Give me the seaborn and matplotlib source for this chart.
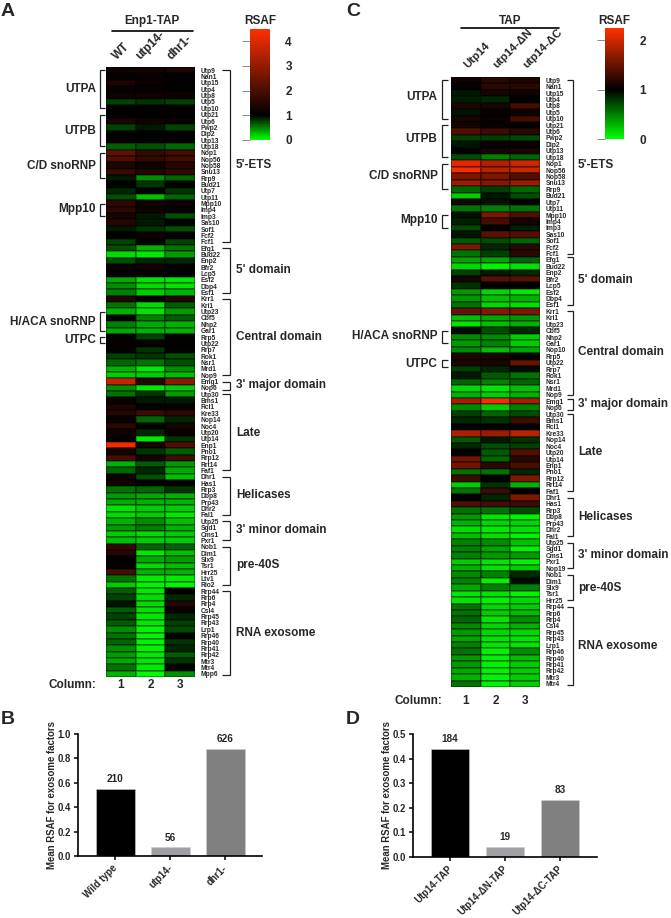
"""Heatmaps RSAF et barres exosome (panneaux A, B, C, D)."""

import matplotlib
matplotlib.use("Agg")
import matplotlib.pyplot as plt
from matplotlib.colors import LinearSegmentedColormap
from matplotlib.transforms import ScaledTranslation
import pandas as pd
import seaborn as sns

W, H = 671, 918

# Panneau A
genes_a = ["Utp9", "Nan1", "Utp15", "Utp4", "Utp8", "Utp5", "Utp10", "Utp21", "Utp6", "Pwp2", "Dip2", "Utp13",
           "Utp18", "Nop1", "Nop56", "Nop58", "Snu13", "Rrp9", "Bud21", "Utp7", "Utp11", "Mpp10", "Imp4", "Imp3",
           "Sas10", "Sof1", "Fcf2", "Fcf1", "Efg1", "Bud22", "Enp2", "Bfr2", "Lcp5", "Esf2", "Dbp4", "Esf1",
           "Krr1", "Kri1", "Utp23", "Cbf5", "Nhp2", "Gar1", "Rrp5", "Utp22", "Rrp7", "Rok1", "Nsr1", "Mrd1",
           "Nop9", "Emg1", "Nop6", "Utp30", "Bms1", "Rcl1", "Kre33", "Nop14", "Noc4", "Utp20", "Utp14", "Enp1",
           "Pno1", "Rrp12", "Rrt14", "Faf1", "Dhr1", "Has1", "Rrp3", "Dbp8", "Prp43", "Dhr2", "Fal1", "Utp25",
           "Sgd1", "Cms1", "Pxr1", "Nob1", "Dim1", "Slx9", "Tsr1", "Hrr25", "Ltv1", "Rio2", "Rrp44", "Rrp6",
           "Rrp4", "Csl4", "Rrp45", "Rrp43", "Lrp1", "Rrp46", "Rrp40", "Rrp41", "Rrp42", "Mtr3", "Mtr4", "Mpp6"]
wt_a = [1.2, 1.05, 1.4, 1.1, 1.2, 0.75, 1.05, 1.05, 1.4, 0.75, 1.05, 1.05,
        0.65, 2.3, 2.1, 1.4, 1.8, 0.9, 1.0, 0.85, 0.7, 1.6, 1.6, 1.3,
        1.5, 0.9, 1.0, 0.75, 0.7, 0.15, 0.7, 1.15, 1.05, 0.35, 0.45, 0.5,
        1.5, 0.55, 0.3, 1.0, 0.5, 0.35, 1.0, 1.1, 1.0, 0.75, 0.6, 0.3,
        0.2, 3.7, 0.45, 0.55, 1.15, 1.4, 1.5, 1.1, 1.6, 1.2, 1.05, 4.3,
        1.3, 2.0, 0.3, 0.6, 1.2, 1.25, 0.55, 0.4, 0.35, 0.12, 0.15, 0.3,
        0.4, 0.2, 0.25, 1.7, 1.5, 1.05, 1.05, 2.0, 0.55, 0.2, 0.65, 0.75,
        0.92, 0.65, 0.75, 0.65, 0.45, 0.55, 0.6, 0.45, 0.4, 0.35, 0.55, 0.3]
utp14_a = [1.3, 1.15, 1.15, 1.1, 1.2, 0.8, 1.05, 1.05, 1.25, 0.9, 1.05, 1.05,
           0.7, 1.7, 1.7, 1.2, 1.5, 0.45, 0.8, 1.0, 0.25, 1.2, 1.2, 0.9,
           0.9, 0.8, 1.15, 1.0, 0.3, 0.1, 0.85, 1.25, 1.1, 0.12, 0.15, 0.2,
           1.05, 0.15, 0.12, 0.5, 0.35, 0.3, 0.75, 1.15, 0.8, 0.8, 0.55, 0.1,
           0.2, 1.5, 0.1, 0.8, 0.9, 1.0, 1.8, 0.6, 1.0, 0.85, 0.1, 1.3,
           0.8, 1.3, 0.65, 0.85, 0.7, 1.05, 0.6, 0.35, 0.3, 0.2, 0.2, 0.45,
           0.5, 0.15, 0.2, 0.6, 0.1, 0.35, 0.15, 0.3, 0.08, 0.05, 0.1, 0.15,
           0.15, 0.12, 0.1, 0.1, 0.05, 0.05, 0.05, 0.05, 0.1, 0.1, 0.1, 0.02]
dhr1_a = [1.4, 1.05, 1.05, 1.0, 1.2, 0.75, 1.05, 1.05, 1.15, 0.75, 1.05, 1.05,
          0.6, 1.9, 1.9, 1.5, 1.7, 0.6, 1.0, 0.8, 0.6, 1.15, 1.1, 0.7,
          1.0, 0.7, 1.05, 0.75, 0.55, 0.4, 0.85, 1.0, 1.0, 0.1, 0.12, 0.3,
          1.5, 0.65, 0.4, 0.65, 0.3, 0.3, 1.0, 1.05, 1.0, 0.7, 0.7, 0.45,
          0.25, 2.9, 0.2, 0.4, 0.9, 1.1, 1.6, 0.85, 1.3, 1.15, 0.8, 2.1,
          0.65, 1.9, 0.4, 0.35, 0.25, 1.0, 0.8, 0.3, 0.3, 0.2, 0.1, 0.25,
          0.3, 0.2, 0.2, 0.6, 0.25, 0.4, 0.25, 0.3, 0.1, 0.05, 1.0, 0.85,
          1.5, 1.1, 0.85, 0.75, 0.72, 1.0, 0.8, 0.87, 0.65, 0.8, 1.0, 0.45]
columns_a = ["WT", "utp14-", "dhr1-"]

# Panneau C
genes_c = ["Utp9", "Nan1", "Utp15", "Utp4", "Utp8", "Utp5", "Utp10", "Utp21", "Utp6", "Pwp2", "Dip2", "Utp13",
           "Utp18", "Nop1", "Nop56", "Nop58", "Snu13", "Rrp9", "Bud21", "Utp7", "Utp11", "Mpp10", "Imp4", "Imp3",
           "Sas10", "Sof1", "Fcf2", "Fcf1", "Efg1", "Bud22", "Enp2", "Bfr2", "Lcp5", "Esf2", "Dbp4", "Esf1",
           "Krr1", "Kri1", "Utp23", "Cbf5", "Nhp2", "Gar1", "Nop10", "Rrp5", "Utp22", "Rrp7", "Rok1", "Nsr1",
           "Mrd1", "Nop9", "Emg1", "Nop6", "Utp30", "Bms1", "Rcl1", "Kre33", "Nop14", "Noc4", "Utp20", "Utp14",
           "Enp1", "Pno1", "Rrp12", "Rrt14", "Faf1", "Dhr1", "Has1", "Rrp3", "Dbp8", "Prp43", "Dhr2", "Fal1",
           "Utp25", "Sgd1", "Cms1", "Pxr1", "Nop19", "Nob1", "Dim1", "Slx9", "Tsr1", "Hrr25", "Rrp44", "Rrp6",
           "Rrp4", "Csl4", "Rrp45", "Rrp43", "Lrp1", "Rrp46", "Rrp40", "Rrp41", "Rrp42", "Mtr3", "Mtr4"]
utp14_c = [1.07, 1.02, 0.9, 0.88, 1.15, 0.93, 1.1, 1.1, 1.4, 0.75, 0.92, 1.0,
           0.7, 2.1, 2.2, 1.6, 1.75, 0.6, 0.2, 1.1, 0.55, 0.93, 0.88, 0.72,
           0.92, 0.65, 1.6, 0.55, 0.35, 0.15, 0.75, 1.1, 0.8, 0.4, 0.4, 0.55,
           1.5, 0.25, 0.1, 0.95, 0.45, 0.4, 0.45, 1.15, 1.15, 0.75, 0.9, 0.6,
           0.15, 0.3, 1.8, 0.45, 0.75, 0.85, 1.0, 1.85, 0.65, 0.85, 1.0, 1.55,
           1.55, 0.55, 1.3, 0.2, 0.55, 1.0, 1.4, 0.55, 0.4, 0.3, 0.12, 0.25,
           0.5, 0.5, 0.5, 0.2, 0.3, 0.45, 0.5, 0.35, 0.1, 0.1, 0.55, 0.55,
           0.6, 0.45, 0.4, 0.35, 0.5, 0.55, 0.4, 0.4, 0.35, 0.3, 0.55]
delta_n_c = [1.2, 1.2, 1.12, 0.85, 1.12, 1.03, 1.05, 1.05, 1.3, 0.75, 1.05, 1.1,
             0.5, 1.85, 1.9, 1.6, 1.65, 0.75, 0.92, 0.92, 0.5, 1.6, 1.35, 1.0,
             1.45, 0.7, 0.85, 0.75, 0.35, 0.05, 0.9, 1.45, 1.0, 0.15, 0.25, 0.15,
             1.65, 0.35, 0.25, 0.7, 0.45, 0.5, 0.25, 1.1, 1.15, 0.85, 0.65, 0.5,
             0.1, 0.2, 2.2, 0.2, 0.6, 0.8, 1.02, 1.75, 0.9, 0.7, 0.65, 0.6,
             1.2, 0.55, 1.0, 0.8, 1.3, 0.85, 1.35, 0.55, 0.1, 0.15, 0.08, 0.12,
             0.45, 0.35, 0.4, 0.1, 0.1, 0.5, 0.05, 0.5, 0.1, 0.05, 0.15, 0.2,
             0.1, 0.15, 0.15, 0.12, 0.1, 0.05, 0.05, 0.05, 0.05, 0.05, 0.05]
delta_c_c = [1.15, 1.2, 1.08, 1.0, 1.35, 1.08, 1.35, 1.02, 1.2, 0.72, 1.05, 1.13,
             0.6, 2.0, 2.0, 1.4, 1.75, 0.6, 0.7, 1.0, 0.55, 1.4, 1.1, 0.88,
             1.4, 0.6, 1.2, 1.2, 0.6, 0.12, 0.85, 1.45, 1.0, 0.08, 0.3, 0.12,
             1.6, 0.4, 0.3, 0.85, 0.2, 0.2, 0.35, 1.0, 1.5, 0.95, 0.55, 0.6,
             0.25, 0.3, 1.8, 0.5, 0.7, 1.3, 1.0, 1.9, 0.8, 0.75, 1.4, 1.2,
             1.35, 0.85, 1.6, 0.3, 1.0, 1.6, 1.3, 0.7, 0.05, 0.15, 0.12, 0.05,
             0.25, 0.05, 0.4, 0.05, 0.2, 0.85, 0.95, 0.5, 0.05, 0.15, 0.2, 0.25,
             0.45, 0.3, 0.15, 0.1, 0.1, 0.45, 0.25, 0.2, 0.2, 0.2, 0.2]
columns_c = ["Utp14", "utp14-ΔN", "utp14-ΔC"]

# Barres
bar_labels_b = ["Wild type", "utp14-", "dhr1-"]
bar_values_b = [0.55, 0.07, 0.88]
bar_counts_b = ["210", "56", "626"]
bar_labels_d = ["Utp14-TAP", "Utp14-ΔN-TAP", "Utp14-ΔC-TAP"]
bar_values_d = [0.44, 0.04, 0.23]
bar_counts_d = ["184", "19", "83"]
bar_colors = ["#000000", "#a0a0a4", "#808080"]

# Crochets droits et gauches : (premier rang, dernier rang)
right_a = [(0, 27), (28, 35), (36, 48), (49, 50.4), (51, 63), (64, 70), (71, 74), (75, 81), (82, 95.2)]
right_c = [(0, 27), (27.6, 35), (36, 49), (49.7, 51.4), (52, 64), (65, 71), (72, 76), (77, 81), (82, 94.2)]
left_a = [(0, 6), (7, 12), (13, 17), (21, 23), (38, 41), (42, 43)]
left_c = [(0, 6), (7, 12), (13, 17), (21, 23), (39, 41), (43.5, 44.7)]

left_names = ["UTPA", "UTPB", "C/D snoRNP", "Mpp10", "H/ACA snoRNP", "UTPC"]
right_names = ["5'-ETS", "5' domain", "Central domain", "3' major domain", "Late", "Helicases",
               "3' minor domain", "pre-40S", "RNA exosome"]
left_y_a = [89, 131, 166, 209, 322, 340]
left_y_c = [97, 139, 176, 220, 336, 364]
right_y_a = [165, 270, 337, 385, 433, 495, 530, 565, 633]
right_y_c = [165, 280, 352, 404, 452, 517, 555, 588, 646]

sns.set_style("ticks")
plt.rcParams["font.family"] = ["Liberation Sans", "DejaVu Sans"]
plt.rcParams["font.weight"] = "bold"
plt.rcParams["axes.labelweight"] = "bold"

fig = plt.figure(figsize=(W / 100, H / 100), dpi=100)


def px_axes(x0, y0, x1, y1):
    """Crée des axes à partir d'une boîte en pixels."""
    return fig.add_axes([x0 / W, 1 - y1 / H, (x1 - x0) / W, (y1 - y0) / H])


overlay = fig.add_axes([0, 0, 1, 1], zorder=10)
overlay.set_xlim(0, W)
overlay.set_ylim(H, 0)
overlay.axis("off")


def shift_labels(labels, dx_px):
    """Décale des étiquettes de quelques pixels."""
    for lab in labels:
        lab.set_transform(lab.get_transform() + ScaledTranslation(dx_px / 100, 0, fig.dpi_scale_trans))


def draw_heatmap(genes, cols, names, box, cbar_box, vmax, ticks):
    """Dessine une heatmap vert-noir-rouge avec sa barre RSAF."""
    mid = 1 / vmax
    cmap = LinearSegmentedColormap.from_list(
        "rsaf", [(0, "#00ff00"), (mid, "#000000"), (1, "#ff3000")])
    df = pd.DataFrame(dict(zip(names, cols)), index=genes)
    ax = px_axes(*box)
    cax = px_axes(*cbar_box)
    sns.heatmap(df, ax=ax, cbar_ax=cax, cmap=cmap, vmin=0, vmax=vmax, linewidths=0.25,
                linecolor="#00000050", yticklabels=True, cbar_kws={"ticks": ticks})
    ax.yaxis.tick_right()
    ax.tick_params(axis="y", length=0, pad=4, labelsize=4.8, labelrotation=0)
    ax.xaxis.tick_top()
    ax.tick_params(axis="x", length=0, labelsize=8.5)
    ax.set_ylabel("")
    cax.tick_params(left=True, right=False, labelleft=False, labelright=True, length=6,
                    width=0.6, color="#777777", labelsize=8.5, pad=5)
    cax.yaxis.set_ticks_position("left")
    cax.yaxis.set_tick_params(labelright=True, labelleft=False)
    return ax


def draw_brackets(ranges, top, row_h, x_line, x_tick):
    """Crochets placés d'après les rangs de la heatmap."""
    for first, last in ranges:
        y0 = top + (first + 0.5) * row_h
        y1 = top + (last + 0.5) * row_h
        overlay.plot([x_tick, x_line, x_line, x_tick], [y0, y0, y1, y1], color="#222222", lw=0.9,
                     solid_joinstyle="miter", solid_capstyle="butt")


def draw_bars(labels, values, counts, box, ymax, yticks):
    """Barres de RSAF moyen pour les facteurs de l'exosome."""
    ax = px_axes(*box)
    df = pd.DataFrame({"strain": labels, "rsaf": values})
    sns.barplot(df, x="strain", y="rsaf", hue="strain", palette=bar_colors, width=0.7,
                legend=False, ax=ax, edgecolor="#cccccc", linewidth=0.4)
    for cont, count in zip(ax.containers, counts):
        ax.bar_label(cont, labels=[count], padding=3.5, fontsize=7.2, fontweight="bold")
    ax.set_xlim(-0.68, 2.667)
    ax.set_ylim(0, ymax)
    ax.set_yticks(yticks)
    ax.set_yticklabels([f"{t:.1f}" for t in yticks])
    ax.set_xlabel("")
    ax.set_ylabel("Mean RSAF for exosome factors", fontsize=6.9, labelpad=0.5)
    ax.tick_params(axis="both", length=3, width=1.1, labelsize=6.9, pad=2, color="black")
    plt.setp(ax.get_xticklabels(), rotation=45, ha="right", rotation_mode="anchor")
    shift_labels(ax.get_xticklabels(), -3)
    sns.despine(ax=ax)
    for side in ["left", "bottom"]:
        ax.spines[side].set_linewidth(1.2)
        ax.spines[side].set_color("black")
    return ax


# A
ax_a = draw_heatmap(genes_a, [wt_a, utp14_a, dhr1_a], columns_a, (106, 67, 195, 677), (250, 29, 270, 140), 4.5, [0, 1, 2, 3, 4])
ax_a.set_xticklabels(columns_a, rotation=45, ha="center", va="bottom")
ax_a.tick_params(axis="x", pad=3.5)
draw_brackets(right_a, 67, 610 / 96, 230, 222)
draw_brackets(left_a, 67, 610 / 96, 100, 105)

# C
ax_c = draw_heatmap(genes_c, [utp14_c, delta_n_c, delta_c_c], columns_c, (451, 77, 540, 687), (605, 28, 624, 139), 2.25, [0, 1, 2])
ax_c.set_xticklabels(columns_c, rotation=45, ha="left", va="bottom", fontsize=8.2)
ax_c.tick_params(axis="x", pad=5)
shift_labels(ax_c.get_xticklabels(), -4)
draw_brackets(right_c, 77, 610 / 95, 573, 567)
draw_brackets(left_c, 77, 610 / 95, 442, 448)

# B, D
draw_bars(bar_labels_b, bar_values_b, bar_counts_b, (78, 734, 262, 856), 1.0, [0.0, 0.2, 0.4, 0.6, 0.8, 1.0])
draw_bars(bar_labels_d, bar_values_d, bar_counts_d, (412.7, 734, 596.7, 856.7), 0.5, [0.0, 0.1, 0.2, 0.3, 0.4, 0.5])

# Textes
for name, y in zip(left_names, left_y_a):
    overlay.text(96, y, name, ha="right", va="center", fontsize=8.5)
for name, y in zip(left_names, left_y_c):
    overlay.text(437.5, y, name, ha="right", va="center", fontsize=8.5)
for name, y in zip(right_names, right_y_a):
    overlay.text(236, y, name, ha="left", va="center", fontsize=8.5)
for name, y in zip(right_names, right_y_c):
    overlay.text(578, y, name, ha="left", va="center", fontsize=8.5)

for letter, x, y in [("A", 1, 11), ("C", 346, 11), ("B", 1, 720), ("D", 346, 720)]:
    overlay.text(x, y, letter, ha="left", va="center", fontsize=14)

overlay.text(152, 21, "Enp1-TAP", ha="center", va="center", fontsize=8.5)
overlay.plot([112, 193], [31, 31], color="black", lw=1.2)
overlay.text(510, 21, "TAP", ha="center", va="center", fontsize=8.5)
overlay.plot([461, 559], [28, 28], color="black", lw=1.2)
overlay.text(260, 21, "RSAF", ha="center", va="center", fontsize=8.5)
overlay.text(614, 21, "RSAF", ha="center", va="center", fontsize=8.5)

overlay.text(96, 685, "Column:", ha="right", va="center", fontsize=8.5)
overlay.text(442, 701, "Column:", ha="right", va="center", fontsize=8.5)
for n, xa, xc in zip(["1", "2", "3"], [121, 150.5, 180], [466, 495.5, 525]):
    overlay.text(xa, 685, n, ha="center", va="center", fontsize=8.5)
    overlay.text(xc, 701, n, ha="center", va="center", fontsize=8.5)

fig.savefig("out.png", dpi=100)
